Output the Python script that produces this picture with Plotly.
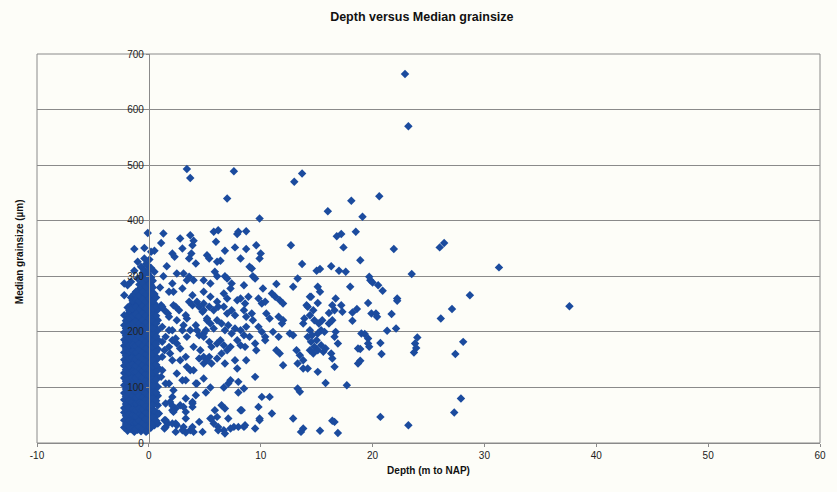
import plotly.graph_objects as go

# ---------------- data ----------------
# dense core near the surface: depth column -> list of median grainsizes
core_depths = [-2.2, -1.9, -1.6, -1.3, -1.0, -0.7, -0.4, -0.1, 0.2, 0.5, 0.8]
core_grains = [
    [28, 41, 55, 63, 78, 90, 104, 117, 126, 139, 150, 163, 175, 186, 199, 212, 230, 266, 287],
    [22, 35, 47, 58, 70, 84, 96, 108, 121, 133, 144, 158, 169, 181, 194, 205, 218, 231, 244, 284],
    [25, 33, 44, 57, 66, 79, 88, 101, 113, 124, 137, 148, 160, 171, 184, 196, 207, 219, 233, 249, 262, 290],
    [20, 31, 42, 53, 64, 76, 87, 98, 110, 122, 131, 143, 154, 166, 178, 189, 201, 213, 224, 238, 251, 268, 310, 349],
    [24, 36, 46, 59, 68, 81, 93, 103, 116, 127, 140, 151, 162, 174, 187, 198, 210, 221, 235, 247, 259, 274, 296, 326],
    [21, 30, 43, 55, 67, 77, 89, 100, 112, 124, 135, 146, 157, 170, 181, 193, 204, 216, 228, 240, 253, 266, 280, 298, 317],
    [26, 38, 49, 60, 72, 85, 95, 107, 118, 130, 141, 153, 165, 176, 188, 200, 211, 223, 236, 248, 260, 273, 287, 301, 311, 332, 351],
    [23, 34, 45, 56, 69, 80, 91, 103, 114, 126, 137, 149, 160, 172, 183, 195, 207, 218, 230, 241, 254, 266, 279, 293, 305, 320, 378],
    [28, 40, 52, 63, 74, 86, 97, 109, 120, 132, 143, 155, 167, 178, 190, 201, 213, 225, 237, 249, 261, 272, 284, 298, 315, 344],
    [32, 45, 58, 71, 83, 96, 108, 121, 134, 146, 158, 171, 184, 197, 209, 222, 236, 251, 268, 308, 346],
    [35, 52, 68, 85, 101, 118, 136, 152, 169, 186, 203, 221, 240],
]
# in-between columns of the same dense core
core2_depths = [-2.05, -1.75, -1.45, -1.15, -0.85, -0.55, -0.25, 0.05, 0.35, 0.65]
core2_grains = [
    [34, 49, 70, 84, 97, 111, 132, 145, 157, 169, 181, 193, 206, 220],
    [29, 40, 52, 64, 76, 90, 102, 115, 127, 139, 152, 164, 176, 188, 200, 212, 225, 238],
    [27, 38, 50, 61, 73, 84, 95, 106, 118, 129, 142, 154, 165, 177, 190, 202, 214, 228, 242, 256],
    [25, 37, 48, 59, 71, 82, 93, 105, 117, 128, 139, 151, 163, 175, 186, 197, 209, 220, 232, 245, 258, 272],
    [30, 41, 52, 62, 74, 86, 98, 109, 121, 133, 145, 156, 168, 179, 191, 203, 215, 227, 241, 254, 266, 285],
    [26, 36, 48, 61, 73, 83, 94, 106, 118, 129, 140, 152, 163, 175, 187, 198, 210, 222, 234, 246, 259, 272, 289, 306],
    [20, 32, 43, 55, 66, 78, 89, 101, 112, 124, 135, 147, 159, 170, 182, 194, 205, 217, 229, 242, 254, 267, 281, 296, 322],
    [29, 40, 51, 63, 75, 86, 98, 109, 121, 132, 144, 155, 166, 178, 189, 201, 212, 224, 236, 248, 260, 272, 286, 299, 312, 330],
    [35, 47, 59, 70, 81, 92, 104, 115, 127, 138, 150, 161, 173, 184, 196, 207, 219, 231, 243, 256, 268, 280, 292],
    [40, 56, 76, 91, 114, 128, 141, 164, 178, 192, 215, 229, 246, 262],
]

# scattered samples, 1-5 m
near_samples = [
    (3.4, 493), (3.7, 477), (1.3, 377), (1.1, 360), (2.8, 368), (3.7, 374), (4.0, 364),
    (2.1, 341), (2.3, 335), (3.8, 341), (3.1, 305), (3.4, 293), (4.9, 293), (5.5, 287),
    (2.1, 287), (2.2, 272), (1.1, 248), (1.4, 239), (1.7, 233), (2.2, 248), (2.7, 239),
    (3.9, 266), (4.3, 254), (3.4, 224), (3.1, 212), (3.7, 203), (4.9, 239), (5.2, 221),
    (1.8, 203), (1.5, 191), (1.2, 182), (2.1, 185), (2.5, 179), (4.3, 203), (4.9, 197),
    (1.4, 167), (1.2, 155), (1.9, 161), (2.8, 149), (3.4, 137), (4.0, 131), (4.6, 167),
    (4.9, 143), (5.4, 155), (1.1, 119), (1.8, 107), (2.2, 95), (3.3, 113), (4.3, 107),
    (4.9, 116), (1.9, 74), (2.1, 59), (2.8, 68), (3.9, 74), (3.3, 56), (1.4, 41),
    (1.7, 35), (2.5, 32), (3.1, 29), (3.7, 23), (4.5, 38), (2.4, 20), (3.3, 19),
    (3.0, 350), (3.9, 356), (3.6, 332), (4.2, 323), (2.5, 305), (3.6, 299), (4.0, 293),
    (1.8, 272), (3.0, 278), (3.6, 254), (3.9, 248), (1.2, 245), (2.4, 245), (4.5, 245),
    (4.8, 236), (1.8, 227), (2.5, 221), (3.3, 230), (1.2, 209), (2.1, 203), (3.0, 203),
    (4.2, 212), (2.4, 188), (3.4, 191), (4.5, 194), (1.8, 173), (2.8, 170), (4.0, 173),
    (2.1, 149), (3.3, 155), (4.5, 152), (1.2, 131), (2.5, 125), (3.7, 131), (1.5, 107),
    (3.0, 113), (4.2, 107), (2.1, 83), (3.3, 80), (4.2, 86), (2.4, 62), (3.9, 65),
    (1.5, 29), (2.4, 35), (3.0, 23), (3.9, 29), (4.8, 20), (2.1, 67), (3.1, 65),
    (3.9, 71), (2.2, 56), (1.5, 41), (1.4, 26), (2.1, 35), (3.3, 44), (4.0, 20),
    (1.5, 71), (0.3, 68), (0.9, 53), (1.0, 280), (1.3, 300), (1.6, 318),
]

# scattered samples, 5-14 m
mid_samples = [
    (7.6, 489), (13.0, 470), (13.7, 485), (7.0, 440), (9.9, 404), (5.8, 380), (6.2, 383),
    (7.9, 376), (8.0, 380), (8.7, 381), (6.0, 362), (7.7, 352), (8.7, 349), (9.6, 356),
    (6.8, 346), (5.2, 338), (5.4, 332), (8.2, 332), (10.0, 341), (9.9, 332), (12.7, 356),
    (13.7, 322), (6.1, 326), (6.4, 328), (9.0, 317), (9.2, 314), (5.9, 308), (6.1, 300),
    (6.8, 300), (7.0, 296), (9.3, 300), (9.5, 296), (13.3, 296), (12.9, 281), (11.4, 286),
    (7.4, 287), (7.3, 278), (8.5, 284), (10.2, 278), (11.0, 269), (4.9, 272), (5.5, 263),
    (6.7, 269), (7.0, 260), (7.9, 257), (8.2, 260), (8.6, 251), (8.9, 263), (9.8, 260),
    (10.1, 251), (10.4, 254), (11.3, 263), (11.7, 257), (12.0, 251), (14.1, 248), (14.4, 263),
    (4.9, 251), (5.4, 245), (5.8, 239), (6.2, 245), (6.1, 254), (6.7, 245), (7.0, 233),
    (7.4, 239), (7.7, 230), (8.5, 239), (8.7, 227), (9.2, 233), (9.3, 221), (10.5, 233),
    (10.8, 224), (11.6, 227), (11.9, 215), (12.0, 221), (13.9, 224), (13.8, 215), (5.2, 224),
    (5.5, 215), (5.8, 206), (5.1, 203), (6.1, 221), (6.5, 215), (6.8, 203), (7.1, 212),
    (7.4, 197), (7.7, 206), (8.2, 203), (8.5, 194), (8.7, 209), (9.0, 191), (9.8, 209),
    (10.1, 200), (10.4, 191), (11.1, 200), (11.6, 191), (12.6, 197), (12.9, 194), (4.9, 191),
    (5.4, 182), (5.6, 173), (6.1, 179), (6.4, 185), (6.7, 176), (7.0, 167), (6.5, 161),
    (7.3, 173), (7.9, 185), (8.2, 176), (8.6, 173), (9.6, 167), (9.5, 179), (10.4, 185),
    (11.4, 167), (11.7, 161), (13.2, 167), (13.5, 158), (13.8, 149), (13.3, 143), (13.8, 134),
    (12.0, 140), (4.9, 155), (5.2, 149), (5.6, 143), (6.1, 152), (6.8, 143), (7.7, 149),
    (7.9, 134), (8.7, 149), (9.5, 119), (7.3, 113), (7.1, 107), (8.0, 110), (6.7, 100),
    (8.0, 91), (8.5, 98), (5.1, 91), (5.5, 100), (10.1, 83), (10.8, 83), (13.3, 98),
    (13.5, 92), (6.5, 68), (6.8, 62), (9.8, 65), (5.9, 59), (11.0, 53), (8.2, 59),
    (5.5, 44), (6.1, 47), (7.1, 44), (9.9, 44), (12.9, 44), (13.8, 26), (13.6, 20),
    (5.8, 35), (6.2, 29), (6.7, 23), (6.8, 17), (7.6, 29), (8.0, 29), (8.5, 29), (9.5, 26),
    (7.3, 26), (8.6, 32), (8.3, 59), (9.9, 41), (5.6, 44), (6.2, 23),
]

# scattered samples, deeper than 14 m
deep_samples = [
    (22.9, 664), (23.2, 570), (18.1, 436), (20.6, 444), (16.0, 417), (19.1, 407),
    (26.0, 352), (26.4, 360), (31.3, 316), (21.9, 349), (23.5, 304), (28.7, 266),
    (27.1, 241), (26.1, 224), (28.1, 182), (27.4, 160), (27.9, 80), (27.3, 55),
    (23.2, 32), (20.7, 47), (24.0, 190), (23.8, 179), (23.9, 171), (23.7, 163), (37.6, 246),
    (16.8, 372), (17.2, 376), (18.5, 380), (17.4, 352), (18.9, 329), (16.3, 318), (15.0, 310),
    (15.3, 313), (17.0, 310), (17.6, 308), (19.7, 299), (19.8, 293), (20.0, 289), (18.0, 281),
    (20.5, 284), (20.9, 274), (15.1, 281), (15.3, 272), (14.5, 263), (22.2, 260), (22.2, 256),
    (19.6, 252), (16.7, 260), (17.2, 248), (17.3, 236), (16.4, 248), (16.6, 239), (15.1, 252),
    (18.6, 241), (18.2, 235), (19.9, 233), (20.3, 233), (20.4, 227), (21.7, 232), (14.2, 245),
    (14.7, 239), (14.4, 230), (16.1, 234), (16.4, 221), (16.1, 215), (15.5, 221), (15.2, 215),
    (14.8, 221), (18.2, 220), (21.3, 202), (22.1, 206), (15.4, 203), (15.7, 200), (15.1, 197),
    (14.6, 194), (14.4, 203), (16.7, 200), (16.6, 191), (16.9, 179), (19.0, 197), (19.3, 196),
    (19.6, 188), (14.2, 191), (14.5, 182), (14.8, 173), (15.1, 167), (15.6, 164), (15.8, 170),
    (15.4, 176), (15.0, 185), (14.7, 161), (14.4, 167), (16.3, 161), (16.4, 152), (16.6, 137),
    (18.7, 170), (18.9, 169), (19.6, 179), (19.7, 173), (20.7, 180), (20.8, 160), (18.7, 143),
    (18.9, 148), (14.2, 134), (15.1, 128), (15.8, 108), (17.7, 104), (16.6, 38), (16.9, 18),
    (15.3, 22), (16.4, 40),
]

x_ticks = [-10, 0, 10, 20, 30, 40, 50, 60]
y_ticks = [0, 100, 200, 300, 400, 500, 600, 700]

# ---------------- assemble ----------------
depth, grain = [], []
for cols, vals in ((core_depths, core_grains), (core2_depths, core2_grains)):
    for d, ys in zip(cols, vals):
        for g in ys:
            depth.append(d)
            grain.append(g)
for group in (near_samples, mid_samples, deep_samples):
    for d, g in group:
        depth.append(d)
        grain.append(g)

BLUE = "#1b4b9e"
GRID = "#8a8a8a"
FONT = "Liberation Sans, Arial, sans-serif"

fig = go.Figure(go.Scatter(
    x=depth, y=grain, mode="markers",
    marker=dict(symbol="diamond", size=6.5, color=BLUE, line=dict(width=0)),
    showlegend=False, hoverinfo="x+y",
))

fig.update_layout(
    width=837, height=492,
    margin=dict(l=37, r=11, t=54, b=49),
    paper_bgcolor="#fdfdf8", plot_bgcolor="#fdfdf8",
    font=dict(family=FONT, size=10, color="#222"),
    title=dict(text="<b>Depth versus Median grainsize</b>", x=0.504, xref="container",
               xanchor="center", y=1 - 17 / 492, yref="container", yanchor="middle",
               font=dict(family=FONT, size=12.5, color="#111")),
    xaxis=dict(range=[-10, 60], tickvals=x_ticks, ticktext=[str(v) for v in x_ticks],
               showgrid=False, zeroline=False, showline=True, linecolor=GRID, linewidth=1,
               ticks="outside", ticklen=3, tickcolor=GRID, tickfont=dict(size=10, color="#222"),
               title=dict(text="<b>Depth (m to NAP)</b>", font=dict(size=10, color="#111"), standoff=6)),
    yaxis=dict(range=[0, 700], tickvals=y_ticks, ticktext=[str(v) for v in y_ticks],
               anchor="free", position=10 / 70, showgrid=True, gridcolor=GRID, gridwidth=1,
               zeroline=False, showline=True, linecolor=GRID, linewidth=1,
               ticks="outside", ticklen=3, tickcolor=GRID, tickfont=dict(size=10, color="#222")),
    shapes=[dict(type="rect", xref="paper", yref="paper", x0=0, x1=1, y0=0, y1=1,
                 line=dict(color=GRID, width=1), layer="below")],
    annotations=[dict(text="<b>Median grainsize (µm)</b>", xref="paper", yref="paper",
                      x=(20 - 37) / 789, y=(443 - 252) / 389, textangle=-90, showarrow=False,
                      xanchor="center", yanchor="middle", font=dict(size=10, color="#111"))],
)

fig.write_html("out.html")
